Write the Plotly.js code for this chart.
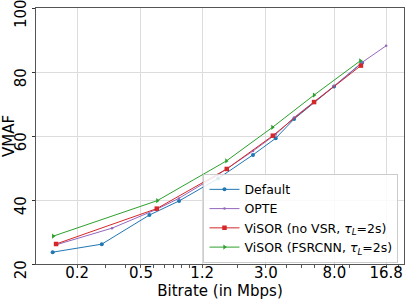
<!DOCTYPE html>
<html>
<head>
<meta charset="utf-8">
<script src="https://cdn.plot.ly/plotly-3.0.1.min.js"></script>
<style>html,body{margin:0;padding:0;background:#fff;}#chart{width:407px;height:301px;}</style>
</head>
<body>
<div id="chart"></div>
<script>
// Data
const defaultX = [0.141, 0.285, 0.564, 0.863, 1.51, 2.49, 3.45, 4.49, 7.96, 11.9];
const defaultY = [23.7, 26.2, 35.3, 39.7, 46.7, 54.1, 59.3, 65.3, 75.5, 82.9];
const opteX = [0.148, 0.33, 0.62, 0.86, 1.5, 2.49, 3.45, 4.49, 7.96, 11.9, 16.8];
const opteY = [26.0, 31.2, 37.0, 40.5, 47.8, 55.3, 60.5, 65.8, 75.6, 83.0, 88.2];
const noVsrX = [0.148, 0.627, 1.71, 3.31, 5.98, 11.7];
const noVsrY = [26.25, 37.3, 49.7, 60.1, 70.6, 82.0];
const fsrX = [0.142, 0.632, 1.70, 3.29, 5.98, 11.6];
const fsrY = [28.7, 39.8, 52.2, 62.7, 72.8, 83.5];
const xTicks = [0.2, 0.5, 1.2, 3.0, 8.0, 16.8];
const xTickText = ['0.2', '0.5', '1.2', '3.0', '8.0', '16.8'];
const xMinorTicks = [0.2, 0.3, 0.4, 0.5, 0.6, 0.7, 0.8, 0.9, 1, 1.2, 2, 3, 4, 5, 6, 7, 8, 9, 10, 16.8, 20];
const yTicks = [20, 40, 60, 80, 100];

const font = 'DejaVu Sans, sans-serif';
const xRange = [Math.log10(0.111), Math.log10(21.7)];
const traces = [
  {x: defaultX, y: defaultY, name: 'Default', mode: 'lines+markers',
   line: {color: '#1f77b4', width: 1}, marker: {symbol: 'circle', size: 4, color: '#1f77b4'}},
  {x: opteX, y: opteY, name: 'OPTE', mode: 'lines+markers',
   line: {color: '#9467bd', width: 1}, marker: {symbol: 'circle', size: 2.5, color: '#9467bd'}},
  {x: noVsrX, y: noVsrY, name: 'ViSOR (no VSR, <i>τ<sub>L</sub></i>=2s)', mode: 'lines+markers',
   line: {color: '#d62728', width: 1}, marker: {symbol: 'square', size: 4.5, color: '#d62728'}},
  {x: fsrX, y: fsrY, name: 'ViSOR (FSRCNN, <i>τ<sub>L</sub></i>=2s)', mode: 'lines+markers', xaxis: 'x2',
   line: {color: '#2ca02c', width: 1}, marker: {symbol: 'triangle-right', size: 4.5, color: '#2ca02c'}}
];

const layout = {
  width: 407, height: 301,
  margin: {l: 36, r: 3, t: 8, b: 37, pad: 0},
  paper_bgcolor: '#fff', plot_bgcolor: '#fff',
  font: {family: font, color: '#000'},
  showlegend: true,
  xaxis: {
    type: 'log', range: xRange,
    tickvals: xTicks, ticks: '', showticklabels: false,
    showgrid: true, gridcolor: '#dcdcdc', gridwidth: 1,
    showline: true, linecolor: '#555', linewidth: 1, mirror: true, zeroline: false,
    minor: {tickvals: xMinorTicks, ticks: 'outside', ticklen: 3, tickcolor: '#555', showgrid: false},
    title: {text: 'Bitrate (in Mbps)', font: {size: 15, family: font}, standoff: 21}
  },
  xaxis2: {
    type: 'log', range: xRange, overlaying: 'x', anchor: 'free', position: 0.009, side: 'bottom',
    tickvals: xTicks, ticktext: xTickText, ticks: '',
    tickfont: {size: 15, family: font}, ticklabeloverflow: 'allow',
    showgrid: false, showline: false, zeroline: false
  },
  yaxis: {
    range: [20, 100], tickvals: yTicks,
    tickfont: {size: 15, family: font}, tickangle: -90, ticks: 'outside', ticklen: 3, tickcolor: '#333',
    ticklabeloverflow: 'allow', ticklabelshift: 8,
    showgrid: true, gridcolor: '#dcdcdc', gridwidth: 1,
    showline: true, linecolor: '#555', linewidth: 1, mirror: true, zeroline: false,
    title: {text: 'VMAF', font: {size: 15, family: font}, standoff: 2}
  },
  legend: {
    x: 0.985, y: 0.005, xanchor: 'right', yanchor: 'bottom',
    bgcolor: 'rgba(255,255,255,0.85)', bordercolor: '#cccccc', borderwidth: 1,
    font: {size: 12.5, family: font}, itemwidth: 30, tracegroupgap: 0
  }
};

Plotly.newPlot('chart', traces, layout, {displayModeBar: false, staticPlot: true});
</script>
</body>
</html>
